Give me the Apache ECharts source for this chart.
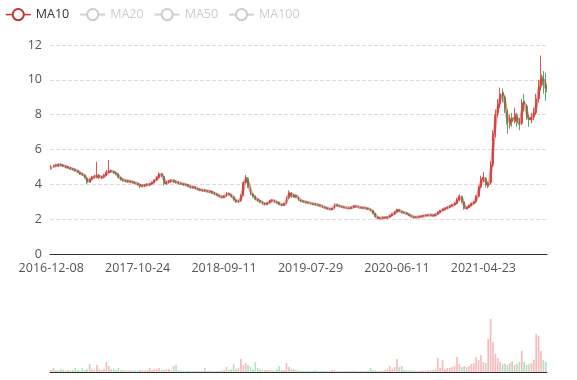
<!DOCTYPE html>
<html>
<head>
<meta charset="utf-8">
<script src="https://cdn.jsdelivr.net/npm/echarts@6/dist/echarts.min.js"></script>
<style>html,body{margin:0;padding:0;background:#fff}#chart{width:577px;height:380px}</style>
</head>
<body>
<div id="chart"></div>
<script>
// Tick labels shown on the date axis (one every 36 categories)
const tickLabels = ['2016-12-08', '2017-10-24', '2018-09-11', '2019-07-29', '2020-06-11', '2021-04-23'];
const pointsPerLabel = 36;
// approx. trading days represented by one candle
const tradingDaysPerPoint = 6;
const maNames = ['MA10', 'MA20', 'MA50', 'MA100'];
const maDays = [10, 20, 50, 100];

// [open, close, low, high]
const ohlc = [
[4.90,5.00,4.85,5.10],[5.02,5.05,4.95,5.12],[5.12,5.10,5.02,5.18],[5.06,5.12,5.01,5.20],[5.15,5.10,5.04,5.20],
[5.10,5.05,4.99,5.14],[4.98,5.00,4.92,5.08],[5.02,4.95,4.90,5.06],[4.93,4.90,4.84,4.99],[4.88,4.85,4.80,4.93],
[4.82,4.80,4.72,4.90],[4.78,4.70,4.65,4.82],[4.68,4.60,4.55,4.72],[4.58,4.55,4.48,4.64],[4.52,4.40,4.34,4.56],
[4.35,4.10,4.00,4.38],[4.12,4.30,4.08,4.36],[4.32,4.40,4.26,4.48],[4.42,4.45,4.35,4.55],[4.40,4.50,4.34,5.30],
[4.52,4.40,4.30,4.60],[4.38,4.42,4.30,4.50],[4.44,4.50,4.38,4.60],[4.52,4.70,4.48,4.82],[4.68,4.75,4.62,5.40],
[4.78,4.74,4.66,4.84],[4.72,4.68,4.60,4.78],[4.66,4.60,4.52,4.70],[4.58,4.40,4.34,4.62],[4.38,4.28,4.22,4.42],
[4.26,4.22,4.16,4.30],[4.18,4.20,4.12,4.26],[4.22,4.17,4.10,4.26],[4.14,4.16,4.08,4.22],[4.15,4.10,4.04,4.20],
[4.08,4.07,4.00,4.14],[4.05,4.00,3.92,4.10],[3.98,3.90,3.78,4.02],[3.90,3.93,3.84,4.00],[3.92,3.96,3.86,4.02],
[4.00,3.98,3.90,4.05],[3.96,4.02,3.90,4.08],[4.02,4.10,3.98,4.16],[4.10,4.25,4.06,4.30],[4.24,4.40,4.20,4.46],
[4.38,4.60,4.34,4.70],[4.60,4.50,4.42,4.66],[4.45,4.05,3.92,4.48],[4.02,4.12,3.96,4.20],[4.14,4.18,4.06,4.26],
[4.16,4.22,4.10,4.30],[4.22,4.16,4.08,4.28],[4.14,4.12,4.04,4.22],[4.10,4.08,4.00,4.16],[4.06,4.03,3.97,4.10],
[3.98,4.00,3.92,4.06],[4.00,3.97,3.90,4.04],[3.96,3.90,3.84,4.00],[3.88,3.83,3.76,3.92],[3.82,3.86,3.76,3.92],
[3.84,3.77,3.70,3.88],[3.75,3.72,3.66,3.80],[3.70,3.67,3.60,3.76],[3.64,3.66,3.58,3.72],[3.67,3.63,3.56,3.72],
[3.62,3.60,3.54,3.68],[3.57,3.59,3.50,3.64],[3.58,3.52,3.46,3.62],[3.50,3.45,3.40,3.55],[3.44,3.38,3.32,3.48],
[3.36,3.30,3.24,3.40],[3.28,3.26,3.18,3.34],[3.25,3.32,3.20,3.38],[3.32,3.48,3.28,3.56],[3.48,3.42,3.36,3.52],
[3.40,3.30,3.24,3.44],[3.28,3.12,3.06,3.32],[3.10,3.00,2.94,3.14],[3.00,3.06,2.95,3.12],[3.06,3.35,3.02,3.42],
[3.36,4.10,3.32,4.16],[4.10,4.40,4.04,4.54],[4.35,3.85,3.78,4.42],[3.82,3.45,3.38,3.86],[3.42,3.32,3.24,3.50],
[3.30,3.15,3.08,3.36],[3.14,3.08,3.00,3.20],[3.06,3.00,2.93,3.10],[2.98,2.90,2.84,3.02],[2.88,2.87,2.80,2.94],
[2.86,2.93,2.82,2.98],[2.94,3.05,2.90,3.10],[3.06,3.08,2.98,3.14],[3.08,3.00,2.94,3.12],[2.98,2.95,2.88,3.02],
[2.96,2.85,2.80,2.98],[2.84,2.81,2.75,2.88],[2.80,2.88,2.76,2.94],[2.90,3.20,2.86,3.28],[3.22,3.55,3.18,3.65],
[3.50,3.30,3.22,3.56],[3.28,3.38,3.22,3.46],[3.36,3.28,3.20,3.42],[3.26,3.10,3.05,3.30],[3.08,3.05,2.98,3.12],
[3.04,3.00,2.95,3.08],[2.98,2.97,2.92,3.03],[2.96,2.94,2.90,3.00],[2.93,2.90,2.85,2.96],[2.88,2.87,2.82,2.92],
[2.86,2.84,2.79,2.90],[2.83,2.81,2.76,2.86],[2.80,2.76,2.72,2.83],[2.75,2.70,2.66,2.78],[2.69,2.65,2.61,2.72],
[2.64,2.60,2.56,2.67],[2.59,2.57,2.53,2.62],[2.56,2.61,2.53,2.65],[2.62,2.85,2.60,2.90],[2.84,2.78,2.74,2.87],
[2.76,2.74,2.70,2.80],[2.73,2.70,2.66,2.76],[2.69,2.67,2.63,2.72],[2.66,2.64,2.60,2.69],[2.61,2.63,2.58,2.67],
[2.63,2.68,2.60,2.72],[2.68,2.75,2.66,2.80],[2.74,2.72,2.68,2.77],[2.71,2.68,2.64,2.74],[2.67,2.66,2.62,2.70],
[2.63,2.65,2.60,2.69],[2.65,2.62,2.58,2.68],[2.61,2.58,2.53,2.64],[2.57,2.50,2.44,2.60],[2.48,2.35,2.28,2.52],
[2.33,2.14,2.08,2.36],[2.12,2.06,2.00,2.15],[2.04,2.06,2.00,2.10],[2.06,2.10,2.03,2.14],[2.10,2.08,2.03,2.13],
[2.07,2.12,2.04,2.16],[2.12,2.20,2.10,2.26],[2.20,2.30,2.17,2.34],[2.30,2.40,2.26,2.46],[2.40,2.55,2.38,2.60],
[2.54,2.45,2.40,2.58],[2.44,2.40,2.34,2.48],[2.39,2.36,2.31,2.42],[2.35,2.30,2.25,2.38],[2.28,2.22,2.18,2.31],
[2.20,2.15,2.10,2.23],[2.14,2.10,2.06,2.17],[2.09,2.12,2.06,2.15],[2.12,2.14,2.09,2.17],[2.15,2.16,2.11,2.20],
[2.16,2.20,2.14,2.23],[2.21,2.22,2.17,2.26],[2.23,2.24,2.19,2.27],[2.25,2.23,2.19,2.28],[2.23,2.20,2.16,2.26],
[2.20,2.28,2.18,2.34],[2.28,2.38,2.25,2.46],[2.38,2.49,2.35,2.54],[2.50,2.56,2.46,2.62],[2.56,2.62,2.52,2.67],
[2.63,2.68,2.58,2.73],[2.70,2.75,2.64,2.80],[2.76,2.82,2.72,2.88],[2.82,2.90,2.78,2.96],[2.90,3.10,2.86,3.22],
[3.10,3.35,3.04,3.42],[3.30,3.00,2.92,3.36],[2.98,2.60,2.54,3.00],[2.60,2.68,2.56,2.74],[2.68,2.78,2.64,2.84],
[2.78,2.90,2.74,2.96],[2.90,2.97,2.86,3.04],[2.98,3.30,2.94,3.38],[3.30,3.86,3.26,3.92],[3.85,4.30,3.80,4.50],
[4.30,4.40,4.10,4.70],[4.35,3.95,3.82,4.42],[3.88,4.05,3.78,4.12],[4.10,5.10,4.00,5.30],[5.10,6.90,5.00,7.10],
[6.90,8.00,6.70,8.30],[8.10,8.60,7.90,8.90],[8.60,9.20,8.40,9.55],[9.30,9.10,8.70,9.50],[9.00,8.30,8.10,9.10],
[8.20,7.45,6.90,8.30],[7.40,7.80,7.20,8.00],[7.80,7.60,7.30,8.10],[7.60,8.05,7.50,8.40],[8.00,7.55,7.30,8.10],
[7.50,7.45,7.10,7.80],[7.50,8.70,7.40,8.90],[8.80,8.60,8.20,9.20],[8.50,7.85,7.70,8.60],[7.80,7.70,7.30,8.00],
[7.70,7.85,7.50,8.10],[7.90,8.10,7.70,8.40],[8.10,8.90,8.00,9.20],[8.90,9.60,8.70,10.00],[9.60,10.30,9.40,11.40],
[10.20,9.70,9.20,10.50],[9.70,9.30,8.80,10.40]
];

const volumes = [
2,4,2,1.5,3,2,1.5,2,1.5,2,
4,2,1.5,4,2,3,8,3,2,7,
3,2,3,10,6,3,3,2,4,2,
2,1.5,1.5,2,1.5,1.5,1.5,2,2,1.5,
2,4,2,3,3,4,2,2,3,3,
1.5,6,7,2,1.5,1,1,1,1,1,
1,1,1,1,4,1,1.5,1,1,1,
1,1.5,2,5,2,3,8,3,4,13,
7,9,7,5,3,10,4,3,2,2,
2,2,1.5,1.5,3,6,2,2,9,5,
3,3,2,1.5,1,1,1,1,1,1,
2,1,1,1,1,1,1,2,2,1,
1,1,1,1,1,1,1.5,1,1,1,
1,1,1.5,4,2,1.5,1,1,1.5,2,
3,6,3,5,13,5,6,2,2,1.5,
1.5,1.5,1,1,1.5,1.5,1.5,1.5,2,2,
3,14,4,12,3,4,4,5,6,15,
8,5,6,5,6,8,9,15,12,17,
10,9,33,53,30,18,14,10,8,8,
7,9,11,7,8,10,21,10,7,8,
9,12,38,36,21,12,10
];

const upColor = '#eb5454';
const downColor = '#47b262';

// category dates between the labelled dates
function fmt(t) {
  const d = new Date(t);
  const p = n => (n < 10 ? '0' : '') + n;
  return d.getUTCFullYear() + '-' + p(d.getUTCMonth() + 1) + '-' + p(d.getUTCDate());
}
const anchorTimes = tickLabels.map(s => Date.parse(s + 'T00:00:00Z'));
const categories = ohlc.map((_, i) => {
  if (i % pointsPerLabel === 0 && i / pointsPerLabel < tickLabels.length) return tickLabels[i / pointsPerLabel];
  let seg = Math.floor(i / pointsPerLabel);
  const last = anchorTimes.length - 1;
  if (seg >= last) seg = last - 1;
  const step = (anchorTimes[seg + 1] - anchorTimes[seg]) / pointsPerLabel;
  const t = anchorTimes[seg] + step * (i - seg * pointsPerLabel);
  return fmt(Math.round(t / 86400000) * 86400000);
});

function calcMA(days) {
  const n = Math.max(1, Math.round(days / tradingDaysPerPoint));
  return ohlc.map((_, i) => {
    if (i < n - 1) return '-';
    let s = 0;
    for (let j = 0; j < n; j++) s += ohlc[i - j][1];
    return +(s / n).toFixed(3);
  });
}

const volumeData = volumes.map((v, i) => ({
  value: v,
  itemStyle: { color: ohlc[i][1] >= ohlc[i][0] ? upColor : downColor, opacity: 0.4 }
}));

const maColors = ['#c23531', '#2f4554', '#61a0a8', '#d48265'];
const font = '"Open Sans", sans-serif';
const fs = 12.5;

const chart = echarts.init(document.getElementById('chart'), null, { renderer: 'canvas' });
chart.setOption({
  animation: false,
  textStyle: { fontFamily: font },
  legend: {
    left: 0, top: 3, itemGap: 10, itemWidth: 25, itemHeight: 14,
    data: maNames,
    selected: { MA10: true, MA20: false, MA50: false, MA100: false },
    textStyle: { fontSize: fs, color: '#333', fontFamily: font },
    itemStyle: { borderWidth: 1.5 },
    lineStyle: { width: 1.5, opacity: 1 },
    inactiveColor: '#ccc'
  },
  grid: [
    { left: 50, right: 30, top: 45, height: 209 },
    { left: 50, right: 30, top: 300, height: 72 }
  ],
  xAxis: [
    {
      type: 'category', data: categories, gridIndex: 0, boundaryGap: true,
      axisLine: { lineStyle: { color: '#333' } },
      axisTick: { interval: pointsPerLabel - 1, lineStyle: { color: '#333' } },
      axisLabel: { interval: pointsPerLabel - 1, color: '#555', fontSize: fs, fontFamily: font },
      splitLine: { show: false }
    },
    {
      type: 'category', data: categories, gridIndex: 1, boundaryGap: true,
      axisLine: { lineStyle: { color: '#333' } },
      axisTick: { show: false }, axisLabel: { show: false }, splitLine: { show: false }
    }
  ],
  yAxis: [
    {
      type: 'value', gridIndex: 0, min: 0, max: 12, interval: 2,
      axisLine: { show: false }, axisTick: { show: false },
      axisLabel: { color: '#555', fontSize: fs, fontFamily: font },
      splitLine: { lineStyle: { type: 'dashed', color: '#ddd' } }
    },
    {
      type: 'value', gridIndex: 1, min: 0, max: 72,
      axisLine: { show: false }, axisTick: { show: false },
      axisLabel: { show: false }, splitLine: { show: false }
    }
  ],
  series: [
    {
      name: 'K', type: 'candlestick', data: ohlc, xAxisIndex: 0, yAxisIndex: 0,
      barWidth: '60%',
      itemStyle: { color: upColor, color0: downColor, borderColor: upColor, borderColor0: downColor, borderWidth: 1 }
    },
    ...maNames.map((name, k) => ({
      name, type: 'line', data: calcMA(maDays[k]), xAxisIndex: 0, yAxisIndex: 0,
      smooth: true, showSymbol: false, symbol: 'emptyCircle', symbolSize: 8,
      itemStyle: { color: maColors[k] },
      lineStyle: { width: 3, opacity: 0.5, color: maColors[k] }
    })),
    {
      name: 'Volume', type: 'bar', data: volumeData, xAxisIndex: 1, yAxisIndex: 1,
      barWidth: '70%'
    }
  ]
});
</script>
</body>
</html>
